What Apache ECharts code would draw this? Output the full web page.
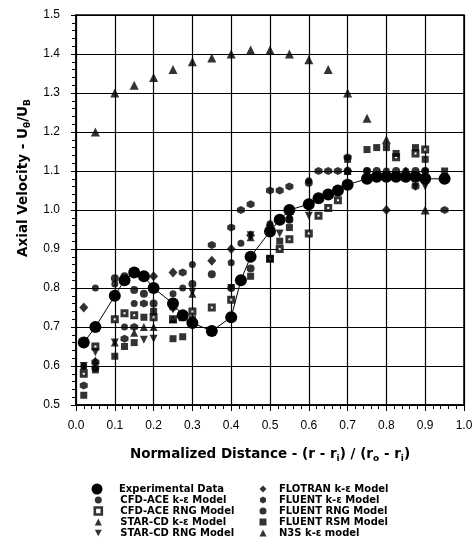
<!DOCTYPE html>
<html>
<head>
<meta charset="utf-8">
<script src="https://cdn.jsdelivr.net/npm/echarts@6/dist/echarts.min.js"></script>
<style>
  html, body { margin: 0; padding: 0; background: #fff; }
  #chart { width: 476px; height: 548px; }
</style>
</head>
<body>
<div id="chart"></div>
<script>
// Axial velocity profiles across the annulus: measurements vs. CFD turbulence models.
// Each series is a list of [normalized distance, U_theta/U_B] pairs.

const expData = [[0.02,0.66],[0.05,0.70],[0.10,0.78],[0.125,0.82],[0.15,0.84],[0.175,0.83],[0.20,0.80],[0.25,0.76],[0.275,0.73],[0.30,0.71],[0.35,0.69],[0.40,0.725],[0.425,0.82],[0.45,0.88],[0.50,0.945],[0.525,0.975],[0.55,1.00],[0.60,1.015],[0.625,1.03],[0.65,1.04],[0.675,1.05],[0.70,1.065],[0.75,1.08],[0.775,1.085],[0.80,1.085],[0.825,1.085],[0.85,1.085],[0.875,1.085],[0.90,1.08],[0.95,1.08]];

const cfdKeData = [[0.02,0.60],[0.05,0.80],[0.10,0.81],[0.125,0.70],[0.15,0.76],[0.20,0.80],[0.25,0.785],[0.275,0.80],[0.30,0.86],[0.40,0.865],[0.425,0.915],[0.50,0.965],[0.55,0.975],[0.60,1.075],[0.75,1.10],[0.80,1.10],[0.85,1.10],[0.90,1.10]];

const cfdRngData = [[0.02,0.58],[0.05,0.65],[0.10,0.72],[0.125,0.735],[0.15,0.73],[0.20,0.725],[0.25,0.72],[0.275,0.725],[0.30,0.74],[0.35,0.75],[0.40,0.77],[0.50,0.875],[0.525,0.90],[0.55,0.925],[0.60,0.94],[0.625,0.985],[0.65,1.005],[0.675,1.025],[0.825,1.135],[0.875,1.145],[0.90,1.155]];

const starKeData = [[0.02,0.60],[0.05,0.615],[0.10,0.66],[0.15,0.685],[0.175,0.70],[0.20,0.70],[0.25,0.72],[0.30,0.785],[0.45,0.93],[0.55,0.99],[0.70,1.10],[0.85,1.10]];

const starRngData = [[0.02,0.60],[0.05,0.635],[0.10,0.66],[0.175,0.667],[0.20,0.67],[0.25,0.745],[0.30,0.79],[0.40,0.80],[0.45,0.935],[0.525,0.94],[0.60,0.985],[0.875,1.06],[0.90,1.06]];

const flotranData = [[0.02,0.75],[0.20,0.83],[0.25,0.84],[0.35,0.87],[0.40,0.90],[0.45,0.935],[0.50,0.96],[0.55,0.995],[0.70,1.10],[0.80,1.00]];

const fluentKeData = [[0.02,0.55],[0.05,0.61],[0.125,0.67],[0.15,0.70],[0.175,0.76],[0.25,0.75],[0.275,0.84],[0.35,0.91],[0.40,0.955],[0.425,1.00],[0.45,1.015],[0.50,1.05],[0.525,1.05],[0.55,1.06],[0.625,1.10],[0.65,1.10],[0.675,1.10],[0.70,1.135],[0.875,1.06],[0.95,1.00]];

const fluentRngData = [[0.05,0.595],[0.10,0.825],[0.125,0.83],[0.15,0.795],[0.175,0.785],[0.20,0.76],[0.25,0.765],[0.30,0.81],[0.35,0.835],[0.40,0.80],[0.45,0.85],[0.55,0.975],[0.60,1.07],[0.70,1.10],[0.75,1.10],[0.775,1.10],[0.825,1.10],[0.875,1.10],[0.90,1.10]];

const fluentRsmData = [[0.02,0.525],[0.05,0.59],[0.10,0.625],[0.125,0.65],[0.15,0.66],[0.175,0.725],[0.20,0.74],[0.25,0.67],[0.275,0.675],[0.30,0.72],[0.45,0.83],[0.50,0.875],[0.525,0.92],[0.55,0.955],[0.70,1.13],[0.75,1.155],[0.775,1.16],[0.80,1.16],[0.825,1.145],[0.875,1.16],[0.90,1.13],[0.95,1.10]];

const n3sData = [[0.05,1.20],[0.10,1.30],[0.15,1.32],[0.20,1.34],[0.25,1.36],[0.30,1.38],[0.35,1.39],[0.40,1.40],[0.45,1.41],[0.50,1.41],[0.55,1.40],[0.60,1.385],[0.65,1.36],[0.70,1.30],[0.75,1.235],[0.80,1.18],[0.85,1.10],[0.90,1.00]];

const leftLegendNames = ['CFD-ACE k-ε Model', 'CFD-ACE RNG Model', 'STAR-CD k-ε Model', 'STAR-CD RNG Model'];
const rightLegendNames = ['FLOTRAN k-ε Model', 'FLUENT k-ε Model', 'FLUENT RNG Model', 'FLUENT RSM Model', 'N3S k-ε model'];

const HEXAGON = 'path://M0,-10L8.66,-5L8.66,5L0,10L-8.66,5L-8.66,-5Z';
const DOWN_TRIANGLE = 'path://M0,0L10,0L5,9Z';
const BLACK = '#000';
const TICK_FONT = 'Liberation Sans, Arial, sans-serif';
const BOLD_FONT = 'DejaVu Sans, sans-serif';

const markerDefs = [
  { name: 'CFD-ACE k-ε Model', data: cfdKeData, symbol: 'circle', size: 7 },
  { name: 'CFD-ACE RNG Model', data: cfdRngData, symbol: 'rect', size: 5, hollow: true },
  { name: 'STAR-CD k-ε Model', data: starKeData, symbol: 'triangle', size: 8 },
  { name: 'STAR-CD RNG Model', data: starRngData, symbol: DOWN_TRIANGLE, size: 8 },
  { name: 'FLOTRAN k-ε Model', data: flotranData, symbol: 'diamond', size: [9, 10] },
  { name: 'FLUENT k-ε Model', data: fluentKeData, symbol: HEXAGON, size: 8 },
  { name: 'FLUENT RNG Model', data: fluentRngData, symbol: 'circle', size: 8 },
  { name: 'FLUENT RSM Model', data: fluentRsmData, symbol: 'rect', size: 7 },
  { name: 'N3S k-ε model', data: n3sData, symbol: 'triangle', size: 9 }
];

const series = markerDefs.map(d => ({
  name: d.name,
  type: 'scatter',
  data: d.data,
  symbol: d.symbol,
  symbolSize: d.size,
  itemStyle: d.hollow
    ? { color: '#fff', borderColor: BLACK, borderWidth: 3 }
    : { color: BLACK },
  z: 3
}));

series.push({
  name: 'Experimental Data',
  type: 'line',
  data: expData,
  symbol: 'circle',
  symbolSize: 12,
  showAllSymbol: true,
  lineStyle: { color: BLACK, width: 1 },
  itemStyle: { color: BLACK },
  z: 5
});

// Legend text; the left padding sets the gap between marker and label.
const legendText = gap => ({
  fontFamily: BOLD_FONT,
  fontWeight: 'bold',
  fontSize: 10,
  lineHeight: 10,
  color: BLACK,
  padding: [0, 0, 0, gap]
});

const legendItems = names => names.map(n =>
  n === 'CFD-ACE RNG Model' ? { name: n, itemStyle: { borderWidth: 2.6 } } : { name: n });

const subStyle = (size, pad) => ({
  fontFamily: BOLD_FONT, fontWeight: 'bold', fontSize: size, color: BLACK, padding: [pad, 0, 0, 0]
});

const option = {
  animation: false,
  backgroundColor: '#fff',
  grid: {
    left: 76, right: 12, top: 15, bottom: 143,
    show: true, borderColor: BLACK, borderWidth: 1.5, backgroundColor: 'transparent'
  },
  xAxis: {
    type: 'value',
    min: 0, max: 1, interval: 0.1,
    name: 'Normalized Distance - (r - r{s|i}) / (r{s|o} - r{s|i})',
    nameLocation: 'middle',
    nameGap: 40,
    nameTextStyle: {
      fontFamily: BOLD_FONT, fontWeight: 'bold', fontSize: 13.5, color: BLACK,
      rich: { s: subStyle(9, 9) }
    },
    axisLine: { show: true, lineStyle: { color: BLACK, width: 1.5 } },
    axisTick: { show: true, inside: false, length: 6, lineStyle: { color: BLACK, width: 1 } },
    minorTick: { show: true, splitNumber: 5, length: 4, lineStyle: { color: BLACK, width: 1 } },
    splitLine: { show: true, lineStyle: { color: BLACK, width: 1.2 } },
    axisLabel: {
      margin: 15, fontFamily: TICK_FONT, fontSize: 12, color: BLACK,
      formatter: v => v.toFixed(1)
    }
  },
  yAxis: {
    type: 'value',
    min: 0.5, max: 1.5, interval: 0.1,
    name: 'Axial Velocity - U{s|θ}/U{s|B}',
    nameLocation: 'middle',
    nameGap: 42,
    nameTextStyle: {
      fontFamily: BOLD_FONT, fontWeight: 'bold', fontSize: 13.5, color: BLACK,
      padding: [0, 0, 0, 64],
      rich: { s: subStyle(9, 9) }
    },
    axisLine: { show: true, lineStyle: { color: BLACK, width: 1.5 } },
    axisTick: { show: true, inside: false, length: 5, lineStyle: { color: BLACK, width: 1 } },
    minorTick: { show: true, splitNumber: 5, length: 4, lineStyle: { color: BLACK, width: 1 } },
    splitLine: { show: true, lineStyle: { color: BLACK, width: 1.2 } },
    axisLabel: {
      margin: 16, fontFamily: TICK_FONT, fontSize: 12, color: BLACK,
      formatter: v => v.toFixed(1)
    }
  },
  legend: [
    {
      data: [{ name: 'Experimental Data', icon: 'circle' }],
      left: 91.5, top: 483.5, padding: 0,
      itemWidth: 11, itemHeight: 11,
      selectedMode: false, textStyle: legendText(11.5)
    },
    {
      data: legendItems(leftLegendNames),
      orient: 'vertical',
      left: 93.5, top: 495, padding: 0,
      itemWidth: 7, itemHeight: 7, itemGap: 1,
      selectedMode: false, textStyle: legendText(13.5)
    },
    {
      data: legendItems(rightLegendNames),
      orient: 'vertical',
      left: 259.5, top: 484, padding: 0,
      itemWidth: 7, itemHeight: 7, itemGap: 1,
      selectedMode: false, textStyle: legendText(7.5)
    }
  ],
  series: series
};

const chart = echarts.init(document.getElementById('chart'), null, { renderer: 'canvas' });
chart.setOption(option);
</script>
</body>
</html>
